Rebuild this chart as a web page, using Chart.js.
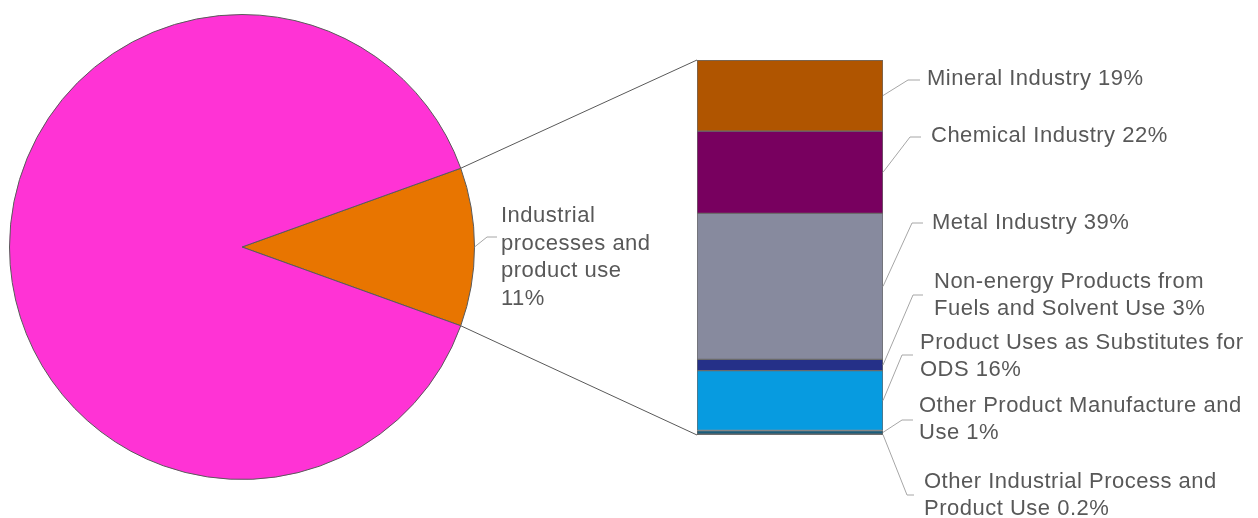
<!DOCTYPE html>
<html>
<head>
<meta charset="utf-8">
<script src="https://cdn.jsdelivr.net/npm/chart.js@4"></script>
<style>
  body { margin: 0; background: #fff; }
  #wrap { position: relative; width: 1258px; height: 518px; }
  #wrap canvas { position: absolute; left: 0; top: 0; }
</style>
</head>
<body>
<div id="wrap">
  <canvas id="pie" width="1258" height="518"></canvas>
  <canvas id="bar" width="1258" height="518"></canvas>
</div>
<script>
// --- Data ---
const pieLabels = [['Industrial', 'processes and', 'product use'], ['Other sectors']];
const pieValues = [11, 89];

const barLabels = [
    ['Mineral Industry'],
    ['Chemical Industry'],
    ['Metal Industry'],
    ['Non-energy Products from', 'Fuels and Solvent Use'],
    ['Product Uses as Substitutes for', 'ODS'],
    ['Other Product Manufacture and', 'Use'],
    ['Other Industrial Process and', 'Product Use']
];
const barValues = [19, 22, 39, 3, 16, 1, 0.2];

// --- Styles ---
const pieColors = ['#E87500', '#FF33D5'];
const barColors = ['#B05500', '#78005F', '#878A9E', '#253088', '#079BE0', '#1A5C7A', '#505050'];
const textColor = '#585858';
const leaderColor = '#a6a6a6';
const FONT = '22px "Liberation Sans", Arial, sans-serif';

// callout positions: elbow x/y, end x, text x, first line y
const barCallouts = [
    { ex: 908, ey: 80,  endX: 920, tx: 927, ty: 79 },
    { ex: 910, ey: 137, endX: 921, tx: 931, ty: 136 },
    { ex: 912, ey: 223, endX: 923, tx: 932, ty: 223 },
    { ex: 913, ey: 295, endX: 923, tx: 934, ty: 282 },
    { ex: 902, ey: 355, endX: 913, tx: 920, ty: 343 },
    { ex: 902, ey: 420, endX: 913, tx: 919, ty: 406 },
    { ex: 907, ey: 495, endX: 914, tx: 924, ty: 482 }
];
const pieCallout = { ex: 487, ey: 237, endX: 497, tx: 501, ty: 216, lh: 27.5 };

Chart.defaults.animation = false;

// --- Pie ---
const pieTotal = pieValues.reduce((a, b) => a + b, 0);
const pieChart = new Chart(document.getElementById('pie'), {
    type: 'pie',
    data: {
        labels: pieLabels,
        datasets: [{
            data: pieValues,
            backgroundColor: pieColors,
            borderColor: '#5a5a5a',
            borderWidth: 1
        }]
    },
    options: {
        responsive: false,
        // center the first slice on the right-hand side
        rotation: 90 - (pieValues[0] / pieTotal) * 180,
        layout: { padding: { left: 9, top: 14, right: 783, bottom: 38 } },
        plugins: { legend: { display: false }, tooltip: { enabled: false } }
    }
});

function drawLines(ctx, lines, x, y, lh) {
    lines.forEach((t, i) => ctx.fillText(t, x, y + i * lh));
}

// draws connectors, leaders and labels on the bar canvas
const calloutPlugin = {
    id: 'callouts',
    afterDraw(chart) {
        const ctx = chart.ctx;
        const arc = pieChart.getDatasetMeta(0).data[0];
        const bars = chart.data.datasets.map((d, i) => chart.getDatasetMeta(i).data[0]);
        const first = bars[0], last = bars[bars.length - 1];
        const barLeft = first.x - first.width / 2;
        const barRight = first.x + first.width / 2;

        ctx.save();
        // connectors pie -> bar
        ctx.strokeStyle = '#595959';
        ctx.lineWidth = 1;
        ctx.beginPath();
        ctx.moveTo(arc.x + arc.outerRadius * Math.cos(arc.startAngle), arc.y + arc.outerRadius * Math.sin(arc.startAngle));
        ctx.lineTo(barLeft, Math.min(first.y, first.base));
        ctx.moveTo(arc.x + arc.outerRadius * Math.cos(arc.endAngle), arc.y + arc.outerRadius * Math.sin(arc.endAngle));
        ctx.lineTo(barLeft, Math.max(last.y, last.base));
        ctx.stroke();

        ctx.font = FONT;
        ctx.letterSpacing = '0.5px';
        ctx.textBaseline = 'middle';
        ctx.fillStyle = textColor;

        // pie label
        const mid = (arc.startAngle + arc.endAngle) / 2;
        ctx.strokeStyle = leaderColor;
        ctx.beginPath();
        ctx.moveTo(arc.x + arc.outerRadius * Math.cos(mid), arc.y + arc.outerRadius * Math.sin(mid));
        ctx.lineTo(pieCallout.ex, pieCallout.ey);
        ctx.lineTo(pieCallout.endX, pieCallout.ey);
        ctx.stroke();
        drawLines(ctx, pieLabels[0].concat([pieValues[0] + '%']), pieCallout.tx, pieCallout.ty, pieCallout.lh);

        // bar labels
        bars.forEach((b, i) => {
            const c = barCallouts[i];
            ctx.beginPath();
            ctx.moveTo(barRight, (b.y + b.base) / 2);
            ctx.lineTo(c.ex, c.ey);
            ctx.lineTo(c.endX, c.ey);
            ctx.stroke();
            const lines = barLabels[i].slice();
            lines[lines.length - 1] += ' ' + barValues[i] + '%';
            drawLines(ctx, lines, c.tx, c.ty, 26.5);
        });
        ctx.restore();
    }
};

// --- Stacked bar ---
const barTotal = barValues.reduce((a, b) => a + b, 0);
new Chart(document.getElementById('bar'), {
    type: 'bar',
    data: {
        labels: ['Industrial processes and product use'],
        datasets: barLabels.map((lbl, i) => ({
            label: lbl.join(' '),
            data: [barValues[i]],
            backgroundColor: barColors[i],
            borderColor: '#6a6a6a',
            borderWidth: 1,
            borderSkipped: false,
            barPercentage: 1,
            categoryPercentage: 1
        }))
    },
    options: {
        responsive: false,
        layout: { padding: { left: 697, right: 375, top: 60, bottom: 83 } },
        scales: {
            x: { stacked: true, display: false },
            y: { stacked: true, display: false, reverse: true, min: 0, max: barTotal }
        },
        plugins: { legend: { display: false }, tooltip: { enabled: false } }
    },
    plugins: [calloutPlugin]
});
</script>
</body>
</html>
